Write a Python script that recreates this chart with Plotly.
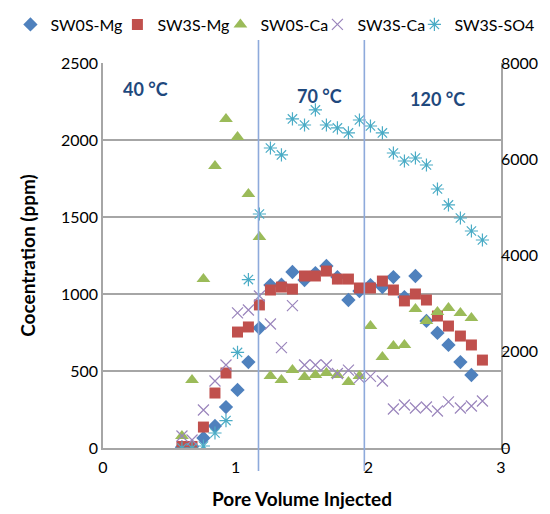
import plotly.graph_objects as go

# ---- data ----
pv = [0.595, 0.671, 0.757, 0.844, 0.927, 1.014, 1.096, 1.179, 1.262, 1.345,
      1.428, 1.519, 1.601, 1.684, 1.767, 1.850, 1.933, 2.016, 2.106, 2.189,
      2.272, 2.355, 2.438, 2.521, 2.604, 2.694, 2.777, 2.860]

sw0s_mg = [5, 10, 65, 143, 266, 377, 558, 779, 1058, 1060, 1143, 1091, 1136, 1182,
           1110, 961, 1019, 1058, 1045, 1110, 980, 1117, 825, 747, 669, 558, 474]
sw3s_mg = [10, 10, 136, 357, 487, 753, 786, 929, 1026, 1045, 1032, 1117, 1117, 1149,
           1097, 1097, 1039, 1039, 1084, 1026, 955, 1000, 961, 857, 792, 727, 669, 571]
sw0s_ca = [78, 442, 1097, 1831, 2136, 2019, 1649, 1370, 468, 442, 506, 461, 474, 487,
           474, 429, 468, 792, 591, 662, 669, 903, 825, 883, 909, 877, 844]
sw3s_ca = [78, 52, 247, 435, 539, 877, 896, 987, 805, 652, 925, 539, 539, 539,
           484, 506, 455, 465, 435, 253, 279, 260, 266, 240, 299, 260, 273, 305]
sw3s_so4 = [0, 0, 42, 312, 570, 1985, 3500, 4862, 6234, 6089, 6837, 6712, 7024, 6712,
            6650, 6546, 6816, 6691, 6546, 6130, 5964, 6026, 5881, 5382, 5050, 4779, 4509, 4322]

series_names = ["SW0S-Mg", "SW3S-Mg", "SW0S-Ca", "SW3S-Ca", "SW3S-SO4"]

boundaries = [1.172, 1.97]
temp_labels = ["40 °C", "70 °C", "120 °C"]
temp_x = [0.32, 1.63, 2.52]
temp_y = [2330, 2285, 2265]

x_ticks = [0, 1, 2, 3]

# horizontal placement of each legend entry (paper fraction)
legend_x = [-0.2326, 0.0362, 0.2950, 0.5387, 0.7824]

FONT = "Lato"

legend_ids = ["legend", "legend2", "legend3", "legend4", "legend5"]

fig = go.Figure()

fig.add_trace(go.Scatter(x=pv[:len(sw0s_mg)], y=sw0s_mg, name=series_names[0], mode="markers",
                         legend=legend_ids[0],
                         marker=dict(symbol="diamond", size=11, color="#4F81BD")))
fig.add_trace(go.Scatter(x=pv, y=sw3s_mg, name=series_names[1], mode="markers",
                         legend=legend_ids[1],
                         marker=dict(symbol="square", size=11, color="#C0504D")))
fig.add_trace(go.Scatter(x=pv[:len(sw0s_ca)], y=sw0s_ca, name=series_names[2], mode="markers",
                         legend=legend_ids[2],
                         marker=dict(symbol="triangle-up", size=12, color="#9BBB59")))
fig.add_trace(go.Scatter(x=pv, y=sw3s_ca, name=series_names[3], mode="markers",
                         legend=legend_ids[3],
                         marker=dict(symbol="x-thin-open", size=11, color="#9A85BC",
                                     line=dict(color="#9A85BC", width=1.2))))
fig.add_trace(go.Scatter(x=pv, y=sw3s_so4, name=series_names[4], mode="markers", yaxis="y2",
                         legend=legend_ids[4],
                         marker=dict(symbol="asterisk-open", size=11, color="#4BACC6",
                                     line=dict(color="#4BACC6", width=1.2))))

for b in boundaries:
    fig.add_shape(type="line", xref="x", yref="paper", x0=b, x1=b, y0=-0.06, y1=1.06,
                  line=dict(color="#8EAADB", width=1.6), layer="above")

for t, tx, ty in zip(temp_labels, temp_x, temp_y):
    fig.add_annotation(x=tx, y=ty, text="<b>%s</b>" % t, showarrow=False,
                       font=dict(family=FONT, size=18, color="#1F497D"))

legend_common = dict(orientation="h", xanchor="left", y=1.1, yanchor="middle",
                     font=dict(family=FONT, size=16, color="#000000"),
                     itemwidth=30, tracegroupgap=0, bgcolor="rgba(0,0,0,0)", borderwidth=0)

legend_layout = {lid: dict(x=lx, **legend_common) for lid, lx in zip(legend_ids, legend_x)}

fig.update_layout(
    width=550, height=514,
    margin=dict(l=95, r=57, t=55, b=74, autoexpand=False),
    paper_bgcolor="white", plot_bgcolor="white",
    font=dict(family=FONT, size=15, color="#000000"),
    showlegend=True,
    **legend_layout,
    xaxis=dict(range=[0, 3], tickvals=x_ticks, showgrid=False, zeroline=False,
               showline=True, linecolor="#A6A6A6", linewidth=1.5, ticks="",
               ticklabelstandoff=4,
               title=dict(text="<b>Pore Volume Injected</b>", font=dict(family=FONT, size=19),
                          standoff=18),
               tickfont=dict(family=FONT, size=16)),
    yaxis=dict(range=[0, 2500], dtick=500, showgrid=True, gridcolor="#A6A6A6", gridwidth=1.5,
               zeroline=False, showline=True, linecolor="#A6A6A6", linewidth=1.5,
               ticks="", title=dict(text="<b>Cocentration (ppm)</b>",
                                    font=dict(family=FONT, size=19), standoff=20),
               tickfont=dict(family=FONT, size=16)),
    yaxis2=dict(range=[0, 8000], dtick=2000, overlaying="y", side="right", showgrid=False,
                zeroline=False, showline=True, linecolor="#A6A6A6", linewidth=1.5,
                ticks="outside", ticklen=5, tickcolor="#A6A6A6", ticklabelstandoff=-10,
                tickfont=dict(family=FONT, size=16)),
)

fig.write_html("out.html")
